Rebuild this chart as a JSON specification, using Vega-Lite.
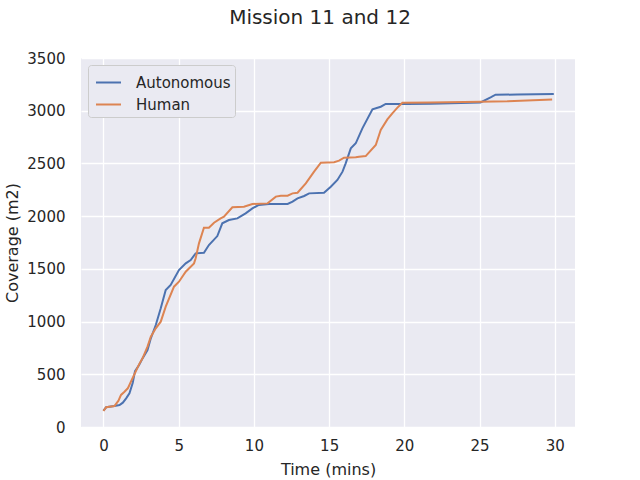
{
  "$schema": "https://vega.github.io/schema/vega-lite/v6.json",
  "autosize": {"type": "none"},
  "padding": {"left": 81, "top": 58, "right": 65, "bottom": 53},
  "width": 494,
  "height": 369,
  "background": "white",
  "title": {"text": "Mission 11 and 12", "fontSize": 20, "font": "DejaVu Sans", "fontWeight": "normal", "color": "#262626", "offset": 23, "dx": -8, "anchor": "middle"},
  "data": {"values": [
    {"t": 0, "c": 155, "s": "Autonomous"},
    {"t": 0.18, "c": 187, "s": "Autonomous"},
    {"t": 0.73, "c": 199, "s": "Autonomous"},
    {"t": 1.07, "c": 209, "s": "Autonomous"},
    {"t": 1.29, "c": 231, "s": "Autonomous"},
    {"t": 1.51, "c": 272, "s": "Autonomous"},
    {"t": 1.73, "c": 319, "s": "Autonomous"},
    {"t": 1.95, "c": 420, "s": "Autonomous"},
    {"t": 2.1, "c": 530, "s": "Autonomous"},
    {"t": 2.37, "c": 588, "s": "Autonomous"},
    {"t": 2.6, "c": 651, "s": "Autonomous"},
    {"t": 2.93, "c": 730, "s": "Autonomous"},
    {"t": 3.15, "c": 841, "s": "Autonomous"},
    {"t": 3.48, "c": 967, "s": "Autonomous"},
    {"t": 3.81, "c": 1126, "s": "Autonomous"},
    {"t": 4.14, "c": 1299, "s": "Autonomous"},
    {"t": 4.47, "c": 1347, "s": "Autonomous"},
    {"t": 5.02, "c": 1489, "s": "Autonomous"},
    {"t": 5.47, "c": 1552, "s": "Autonomous"},
    {"t": 5.8, "c": 1584, "s": "Autonomous"},
    {"t": 6.13, "c": 1647, "s": "Autonomous"},
    {"t": 6.68, "c": 1653, "s": "Autonomous"},
    {"t": 7.01, "c": 1726, "s": "Autonomous"},
    {"t": 7.57, "c": 1811, "s": "Autonomous"},
    {"t": 7.9, "c": 1932, "s": "Autonomous"},
    {"t": 8.34, "c": 1963, "s": "Autonomous"},
    {"t": 8.9, "c": 1979, "s": "Autonomous"},
    {"t": 9.45, "c": 2027, "s": "Autonomous"},
    {"t": 9.9, "c": 2074, "s": "Autonomous"},
    {"t": 10.33, "c": 2106, "s": "Autonomous"},
    {"t": 11, "c": 2115, "s": "Autonomous"},
    {"t": 12.24, "c": 2115, "s": "Autonomous"},
    {"t": 12.57, "c": 2137, "s": "Autonomous"},
    {"t": 12.9, "c": 2169, "s": "Autonomous"},
    {"t": 13.34, "c": 2191, "s": "Autonomous"},
    {"t": 13.67, "c": 2216, "s": "Autonomous"},
    {"t": 14.66, "c": 2222, "s": "Autonomous"},
    {"t": 15.11, "c": 2279, "s": "Autonomous"},
    {"t": 15.55, "c": 2343, "s": "Autonomous"},
    {"t": 15.89, "c": 2422, "s": "Autonomous"},
    {"t": 16.1, "c": 2501, "s": "Autonomous"},
    {"t": 16.44, "c": 2643, "s": "Autonomous"},
    {"t": 16.77, "c": 2691, "s": "Autonomous"},
    {"t": 17.21, "c": 2833, "s": "Autonomous"},
    {"t": 17.88, "c": 3013, "s": "Autonomous"},
    {"t": 18.43, "c": 3038, "s": "Autonomous"},
    {"t": 18.76, "c": 3064, "s": "Autonomous"},
    {"t": 19.54, "c": 3064, "s": "Autonomous"},
    {"t": 20.2, "c": 3064, "s": "Autonomous"},
    {"t": 21.75, "c": 3067, "s": "Autonomous"},
    {"t": 25.06, "c": 3079, "s": "Autonomous"},
    {"t": 25.73, "c": 3127, "s": "Autonomous"},
    {"t": 26.06, "c": 3152, "s": "Autonomous"},
    {"t": 27.5, "c": 3153, "s": "Autonomous"},
    {"t": 29.93, "c": 3158, "s": "Autonomous"},
    {"t": 0, "c": 152, "s": "Human"},
    {"t": 0.18, "c": 187, "s": "Human"},
    {"t": 0.73, "c": 199, "s": "Human"},
    {"t": 1.0, "c": 250, "s": "Human"},
    {"t": 1.17, "c": 304, "s": "Human"},
    {"t": 1.4, "c": 335, "s": "Human"},
    {"t": 1.62, "c": 367, "s": "Human"},
    {"t": 1.88, "c": 446, "s": "Human"},
    {"t": 2.37, "c": 594, "s": "Human"},
    {"t": 2.6, "c": 651, "s": "Human"},
    {"t": 2.93, "c": 762, "s": "Human"},
    {"t": 3.15, "c": 857, "s": "Human"},
    {"t": 3.48, "c": 936, "s": "Human"},
    {"t": 3.81, "c": 999, "s": "Human"},
    {"t": 4.14, "c": 1141, "s": "Human"},
    {"t": 4.69, "c": 1331, "s": "Human"},
    {"t": 5.02, "c": 1378, "s": "Human"},
    {"t": 5.47, "c": 1473, "s": "Human"},
    {"t": 6.02, "c": 1552, "s": "Human"},
    {"t": 6.13, "c": 1600, "s": "Human"},
    {"t": 6.35, "c": 1742, "s": "Human"},
    {"t": 6.68, "c": 1890, "s": "Human"},
    {"t": 7.01, "c": 1890, "s": "Human"},
    {"t": 7.35, "c": 1938, "s": "Human"},
    {"t": 7.79, "c": 1979, "s": "Human"},
    {"t": 8.01, "c": 1995, "s": "Human"},
    {"t": 8.57, "c": 2084, "s": "Human"},
    {"t": 9.34, "c": 2090, "s": "Human"},
    {"t": 9.9, "c": 2115, "s": "Human"},
    {"t": 10.91, "c": 2121, "s": "Human"},
    {"t": 11.46, "c": 2185, "s": "Human"},
    {"t": 11.79, "c": 2194, "s": "Human"},
    {"t": 12.24, "c": 2194, "s": "Human"},
    {"t": 12.57, "c": 2216, "s": "Human"},
    {"t": 12.9, "c": 2222, "s": "Human"},
    {"t": 13.45, "c": 2311, "s": "Human"},
    {"t": 14.0, "c": 2422, "s": "Human"},
    {"t": 14.45, "c": 2507, "s": "Human"},
    {"t": 15.33, "c": 2511, "s": "Human"},
    {"t": 15.66, "c": 2526, "s": "Human"},
    {"t": 15.99, "c": 2555, "s": "Human"},
    {"t": 16.77, "c": 2558, "s": "Human"},
    {"t": 16.99, "c": 2564, "s": "Human"},
    {"t": 17.43, "c": 2570, "s": "Human"},
    {"t": 18.1, "c": 2675, "s": "Human"},
    {"t": 18.43, "c": 2817, "s": "Human"},
    {"t": 18.87, "c": 2918, "s": "Human"},
    {"t": 19.2, "c": 2975, "s": "Human"},
    {"t": 19.54, "c": 3029, "s": "Human"},
    {"t": 19.87, "c": 3076, "s": "Human"},
    {"t": 21.75, "c": 3079, "s": "Human"},
    {"t": 25.06, "c": 3086, "s": "Human"},
    {"t": 26.84, "c": 3089, "s": "Human"},
    {"t": 29.82, "c": 3107, "s": "Human"}
  ]},
  "mark": {"type": "line", "strokeWidth": 2, "clip": true},
  "encoding": {
    "x": {"field": "t", "type": "quantitative", "title": "Time (mins)",
      "scale": {"domain": [-1.49, 31.34], "nice": false, "zero": false},
      "axis": {"values": [0, 5, 10, 15, 20, 25, 30], "format": "d", "labelPadding": 11, "titlePadding": 8}},
    "y": {"field": "c", "type": "quantitative", "title": "Coverage (m2)",
      "scale": {"domain": [0, 3500], "nice": false},
      "axis": {"values": [0, 500, 1000, 1500, 2000, 2500, 3000, 3500], "format": "d", "labelPadding": 16, "titlePadding": 6}},
    "color": {"field": "s", "type": "nominal",
      "scale": {"domain": ["Autonomous", "Human"], "range": ["#4C72B0", "#DD8452"]},
      "legend": {"title": null, "orient": "top-left", "offset": 7}}
  },
  "config": {
    "view": {"fill": "#EAEAF2", "stroke": null},
    "axis": {
      "domain": false, "ticks": false, "grid": true, "gridColor": "white", "gridWidth": 1.3, "gridOpacity": 1,
      "labelFont": "DejaVu Sans", "labelFontSize": 15, "labelColor": "#262626",
      "titleFont": "DejaVu Sans", "titleFontSize": 16, "titleFontWeight": "normal", "titleColor": "#262626",
      "labelFlush": false, "labelOverlap": false
    },
    "legend": {
      "labelFont": "DejaVu Sans", "labelFontSize": 15, "labelColor": "#262626",
      "symbolType": "stroke", "symbolStrokeWidth": 2, "symbolSize": 625, "rowPadding": -2,
      "labelOffset": 14, "symbolOffset": 3, "padding": 4,
      "fillColor": "#EAEAF2", "strokeColor": "#CCCCCC", "cornerRadius": 3, "labelLimit": 300
    }
  }
}
